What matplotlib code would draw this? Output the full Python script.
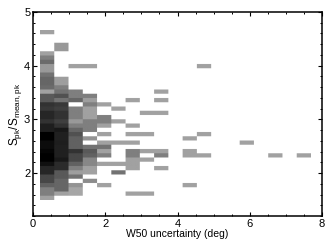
import matplotlib
matplotlib.use('Agg')
import matplotlib.pyplot as plt
import numpy as np
from matplotlib.ticker import MultipleLocator

plt.rcParams['font.family'] = ['Liberation Sans', 'DejaVu Sans']
plt.rcParams['mathtext.fontset'] = 'custom'
plt.rcParams['mathtext.rm'] = 'Liberation Sans'
plt.rcParams['mathtext.default'] = 'rm'

# darkness of each cell, top row first, one list per W50 bin
col0 = [37,0,0,0,0,37,50,58,40,40,55,60,60,58,37,65,65,80,78,85,85,80,88,88,100,100,95,95,98,100,100,93,85,85,72,72,62,50,50,37]
col1 = [0,0,0,40,40,0,0,0,0,0,0,38,38,50,55,68,55,78,75,80,80,75,80,90,87,87,88,87,87,87,90,83,83,65,65,60,60,60,37,0]
col2 = [0,0,0,0,0,0,0,0,37,0,0,0,0,0,50,50,60,0,50,50,50,40,50,60,68,62,62,62,80,72,72,62,50,38,55,0,42,35,35,0]
col3 = [0,0,0,0,0,0,0,0,37,0,0,0,0,0,0,50,38,50,37,37,37,50,50,50,0,42,0,55,65,62,47,47,37,37,0,45,0,0,0,0]
col4 = [0]*17 + [37,0,0,50,50,37,0,37,0,37,55,37,50,0,37,0,0,0,0,37,0,0,0]
col5 = [0]*18 + [37,0,0,37,0,0,0,0,37,0,0,0,0,37,0,55,0,0,0,0,0,0]
col6 = [0]*16 + [37,0,0,0,0,0,37,0,37,0,37,0,50,50,37,37,37,0,0,0,0,0,37,0]
col7 = [0]*19 + [37,0,0,0,0,37,0,0,0,37,0,37,0,0,0,0,0,0,0,37,0]
col8 = [0]*14 + [37,0,37,0,0,37,0,0,0,0,0,0,0,0,37,50,0,0,37,0,0,0,0,0,0,0]
col9 = [0]*40
col10 = [0]*25 + [37,0,0,37,37,0,0,0,0,0,0,37,0,0,0]
col11 = [0]*8 + [37] + [0]*15 + [37,0,0,0,0,37] + [0]*10
col14 = [0]*26 + [37] + [0]*13
col16 = [0]*29 + [37] + [0]*10
col18 = [0]*29 + [37] + [0]*10
empty = [0]*40

columns = [col0, col1, col2, col3, col4, col5, col6, col7, col8, col9, col10, col11,
           empty, empty, col14, empty, col16, empty, col18]

grid = np.array(columns, dtype=float).T
# repeat cells so the bilinear smoothing only softens the cell edges
fine = np.repeat(np.repeat(grid, 4, axis=0), 14, axis=1)

x0, x1 = 0.2, 0.2 + 0.394*len(columns)
y0, y1 = 1.49, 4.64

fig = plt.figure(figsize=(3.32, 2.49), dpi=100)
ax = fig.add_axes([33/332, 1-216/249, 289/332, 204/249])

ax.imshow(fine, cmap='gray_r', vmin=0, vmax=100, extent=[x0, x1, y0, y1], aspect='auto',
          interpolation='bilinear')

ax.set_xlim(0, 8)
ax.set_ylim(1.2, 5)
ax.set_xticks([0, 2, 4, 6, 8])
ax.set_yticks([2, 3, 4, 5])
ax.xaxis.set_minor_locator(MultipleLocator(0.5))
ax.yaxis.set_minor_locator(MultipleLocator(0.2))
ax.tick_params(which='major', direction='in', top=True, right=True, length=3, width=0.8, labelsize=8, pad=2)
ax.tick_params(which='minor', direction='in', top=True, right=True, length=1.5, width=0.7)
for s in ax.spines.values():
    s.set_linewidth(1.1)

ax.set_xlabel('W50 uncertainty (deg)', fontsize=7.5, labelpad=0)
ax.set_ylabel(r'S$_{\mathrm{pk}}$/S$_{\mathrm{mean,pk}}$', fontsize=8.5, labelpad=0)

plt.savefig('out.png', dpi=100)
